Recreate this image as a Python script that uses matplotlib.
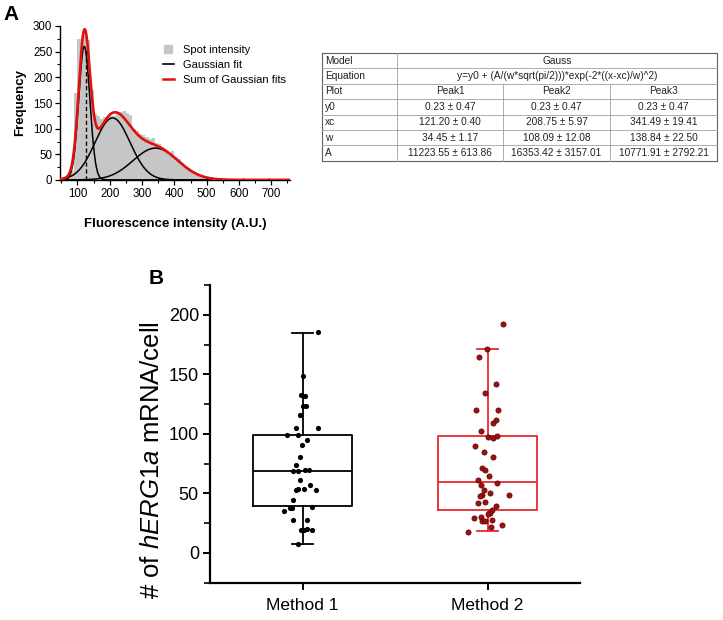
import numpy as np
import matplotlib
matplotlib.use('Agg')
import matplotlib.pyplot as plt
from matplotlib.lines import Line2D
from matplotlib.ticker import MultipleLocator

plt.rcParams['font.family'] = ['Liberation Sans', 'DejaVu Sans']
plt.rcParams['mathtext.fontset'] = 'custom'
plt.rcParams['mathtext.rm'] = 'Liberation Sans'
plt.rcParams['mathtext.it'] = 'Liberation Sans:italic'

# ---------------- Panel A data ----------------
hist_left = [60 + 10 * i for i in range(70)]
hist_counts = [2, 4, 18, 169, 274, 276, 280, 272, 175, 128,
               125, 118, 123, 122, 125, 124, 132, 133, 134, 130,
               127, 100, 96, 90, 88, 84, 80, 82, 73, 70,
               63, 56, 52, 56, 45, 41, 34, 28, 22, 17,
               12, 8, 5, 3, 2, 1, 2, 3, 3, 2,
               1, 2, 1, 1, 2, 3, 2, 1, 1, 2,
               1, 1, 2, 3, 1, 1, 0, 1, 2, 1]
bin_width = 10

fit_y0 = 0.23
peak_xc = [121.20, 208.75, 341.49]
peak_w = [34.45, 108.09, 138.84]
peak_A = [11223.55, 16353.42, 10771.91]
dashed_x = 126
dashed_top = 255

# table
table_model = "Gauss"
table_equation = "y=y0 + (A/(w*sqrt(pi/2)))*exp(-2*((x-xc)/w)^2)"
table_header = ["Plot", "Peak1", "Peak2", "Peak3"]
table_rows = [
    ["y0", "0.23 \u00b1 0.47", "0.23 \u00b1 0.47", "0.23 \u00b1 0.47"],
    ["xc", "121.20 \u00b1 0.40", "208.75 \u00b1 5.97", "341.49 \u00b1 19.41"],
    ["w", "34.45 \u00b1 1.17", "108.09 \u00b1 12.08", "138.84 \u00b1 22.50"],
    ["A", "11223.55 \u00b1 613.86", "16353.42 \u00b1 3157.01", "10771.91 \u00b1 2792.21"],
]

# ---------------- Panel B data ----------------
categories = ["Method 1", "Method 2"]
m1_vals = [185.4, 148.4, 133.0, 131.6, 123.2, 123.2, 116.2, 105.0, 105.0, 98.8,
           98.8, 95.2, 91.0, 80.7, 74.2, 68.6, 68.6, 69.4, 70.0, 61.6,
           56.8, 53.2, 53.7, 53.7, 53.2, 44.8, 38.6, 37.8, 37.8, 35.0,
           28.0, 28.0, 19.6, 19.6, 20.2, 19.0, 7.8]
m1_dx = [0.085, 0.0, -0.009, 0.013, 0.005, 0.018, -0.013, -0.036, 0.085, -0.084,
         -0.022, 0.027, -0.004, -0.016, -0.036, -0.049, -0.023, 0.013, 0.036, -0.013,
         0.04, -0.036, -0.027, 0.009, 0.072, -0.054, 0.054, -0.068, -0.059, -0.099,
         -0.054, 0.027, -0.009, 0.009, 0.027, 0.051, -0.027]
m2_vals = [192.4, 171.4, 164.4, 142.0, 134.1, 120.2, 120.2, 112.0, 109.2, 102.2,
           97.2, 96.1, 98.2, 90.2, 85.1, 80.9, 71.1, 70.0, 65.0, 61.0,
           59.1, 57.1, 53.2, 49.0, 49.0, 47.9, 50.1, 42.0, 43.1, 39.7,
           35.8, 33.6, 32.8, 29.1, 29.9, 27.1, 27.0, 28.0, 23.8, 21.8, 17.9]
m2_dx = [0.083, -0.005, -0.045, 0.045, -0.011, -0.061, 0.058, 0.044, 0.031, -0.036,
         0.004, 0.031, 0.049, -0.065, -0.018, 0.031, -0.029, -0.016, 0.009, -0.049,
         0.052, -0.036, -0.020, 0.114, -0.029, -0.040, 0.011, -0.049, -0.013, 0.045,
         0.024, 0.013, 0.004, -0.074, -0.036, -0.029, -0.016, 0.025, 0.078, 0.020, -0.108]
box_q1 = [39.0, 36.4]
box_med = [69.0, 59.3]
box_q3 = [98.8, 98.0]
box_lo = [7.8, 18.2]
box_hi = [185.0, 171.4]

# ---------------- Figure ----------------
W, H = 723, 620
fig = plt.figure(figsize=(W / 100, H / 100), dpi=100)

def fax(l, t, r, b):
    return fig.add_axes([l / W, 1 - b / H, (r - l) / W, (b - t) / H])

# ---- Panel A ----
axA = fax(60, 26, 290, 180)
axA.bar(hist_left, hist_counts, width=bin_width, align='edge', color='#c6c6c6',
        edgecolor='none', zorder=1)
xs = np.linspace(50, 755, 800)
total = np.full_like(xs, fit_y0)
for xc, w, A in zip(peak_xc, peak_w, peak_A):
    g = A / (w * np.sqrt(np.pi / 2)) * np.exp(-2 * ((xs - xc) / w) ** 2)
    total += g
    axA.plot(xs, fit_y0 + g, color='black', lw=1.1, zorder=3)
axA.plot(xs, total, color='#e01010', lw=1.9, zorder=4)
axA.plot([dashed_x, dashed_x], [0, dashed_top], color='black', lw=1.0,
         ls=(0, (3, 2)), zorder=5)
axA.set_xlim(46, 758)
axA.set_ylim(0, 300)
axA.spines['top'].set_visible(False)
axA.spines['right'].set_visible(False)
for s in ['left', 'bottom']:
    axA.spines[s].set_linewidth(1.0)
axA.xaxis.set_major_locator(MultipleLocator(100))
axA.xaxis.set_minor_locator(MultipleLocator(50))
axA.yaxis.set_major_locator(MultipleLocator(50))
axA.yaxis.set_minor_locator(MultipleLocator(25))
axA.set_xticks(range(100, 701, 100))
axA.tick_params(which='major', direction='out', length=3.5, width=0.9, labelsize=8.3, pad=2)
axA.tick_params(which='minor', direction='out', length=2, width=0.8)
axA.set_xlabel('Fluorescence intensity (A.U.)', fontsize=9.5, fontweight='bold', labelpad=13)
axA.set_ylabel('Frequency', fontsize=9.5, fontweight='bold', labelpad=5)
handles = [Line2D([], [], marker='s', color='#c6c6c6', ls='none', markersize=6),
           Line2D([], [], color='black', lw=1.2),
           Line2D([], [], color='#e01010', lw=1.8)]
axA.legend(handles, ['Spot intensity', 'Gaussian fit', 'Sum of Gaussian fits'],
           loc='upper left', bbox_to_anchor=(157 / W, 1 - 39 / H),
           bbox_transform=fig.transFigure, frameon=False, fontsize=8,
           handlelength=1.0, handletextpad=0.8, labelspacing=0.45, borderpad=0)
fig.text(3 / W, 1 - 15 / H, 'A', fontsize=15, fontweight='bold', va='center', ha='left')

# ---- Table ----
tx = [322, 397, 503, 610, 717]
ty = [53 + 15.4 * i for i in range(8)]
tax = fax(0, 0, W, H)
tax.set_xlim(0, W)
tax.set_ylim(H, 0)
tax.axis('off')
lc = '#a0a0a0'
tax.plot([tx[0], tx[-1], tx[-1], tx[0], tx[0]], [ty[0], ty[0], ty[-1], ty[-1], ty[0]],
         color='#606060', lw=0.8)
for y in ty[1:-1]:
    tax.plot([tx[0], tx[-1]], [y, y], color=lc, lw=0.6)
tax.plot([tx[1], tx[1]], [ty[0], ty[-1]], color=lc, lw=0.6)
for x in tx[2:4]:
    tax.plot([x, x], [ty[2], ty[-1]], color=lc, lw=0.6)
fs_t = 7.3
def rowc(i):
    return (ty[i] + ty[i + 1]) / 2
tcol = '#222222'
tax.text(tx[0] + 3, rowc(0), 'Model', fontsize=fs_t, va='center', ha='left', color=tcol)
tax.text((tx[1] + tx[-1]) / 2, rowc(0), table_model, fontsize=fs_t, va='center', ha='center', color=tcol)
tax.text(tx[0] + 3, rowc(1), 'Equation', fontsize=fs_t, va='center', ha='left', color=tcol)
tax.text((tx[1] + tx[-1]) / 2, rowc(1), table_equation, fontsize=fs_t, va='center', ha='center', color=tcol)
for r, row in enumerate([table_header] + table_rows):
    i = r + 2
    tax.text(tx[0] + 3, rowc(i), row[0], fontsize=fs_t, va='center', ha='left', color=tcol)
    for c in range(1, 4):
        tax.text((tx[c] + tx[c + 1]) / 2, rowc(i), row[c], fontsize=fs_t,
                 va='center', ha='center', color=tcol)

# ---- Panel B ----
axB = fax(210, 285, 580, 582.7)
stats = []
for i in range(2):
    stats.append(dict(q1=box_q1[i], med=box_med[i], q3=box_q3[i],
                      whislo=box_lo[i], whishi=box_hi[i], fliers=[], label=categories[i]))
colors = ['black', '#e8292b']
for i in range(2):
    c = colors[i]
    axB.bxp([stats[i]], positions=[i + 1], widths=0.54, capwidths=0.11, showfliers=False,
            boxprops=dict(color=c, lw=1.3), whiskerprops=dict(color=c, lw=1.3),
            capprops=dict(color=c, lw=1.3), medianprops=dict(color=c, lw=1.3),
            manage_ticks=False)
axB.scatter(1 + np.array(m1_dx), m1_vals, s=14, color='black', zorder=5, linewidths=0)
axB.scatter(2 + np.array(m2_dx), m2_vals, s=14, color='#9e1010', edgecolors='#5a0000',
            linewidths=0.5, zorder=5)
axB.set_xlim(0.5, 2.5)
axB.set_ylim(-25, 225)
axB.set_xticks([1, 2])
axB.set_xticklabels(categories)
axB.yaxis.set_major_locator(MultipleLocator(50))
axB.yaxis.set_minor_locator(MultipleLocator(25))
axB.set_yticks([0, 50, 100, 150, 200])
axB.spines['top'].set_visible(False)
axB.spines['right'].set_visible(False)
for s in ['left', 'bottom']:
    axB.spines[s].set_linewidth(1.6)
axB.tick_params(which='major', direction='out', length=5, width=1.4, labelsize=13, pad=3)
axB.tick_params(axis='x', labelsize=12.5, pad=6)
axB.tick_params(which='minor', direction='out', length=4, width=1.2)
axB.set_ylabel(r'# of $\mathit{hERG1a}$ mRNA/cell', fontsize=18.5)
axB.yaxis.set_label_coords((164 - 210) / 370, (582.7 - 460) / 297.7)
fig.text(149 / W, 1 - 278 / H, 'B', fontsize=15, fontweight='bold', va='center', ha='left')

fig.savefig('out.png', dpi=100)
